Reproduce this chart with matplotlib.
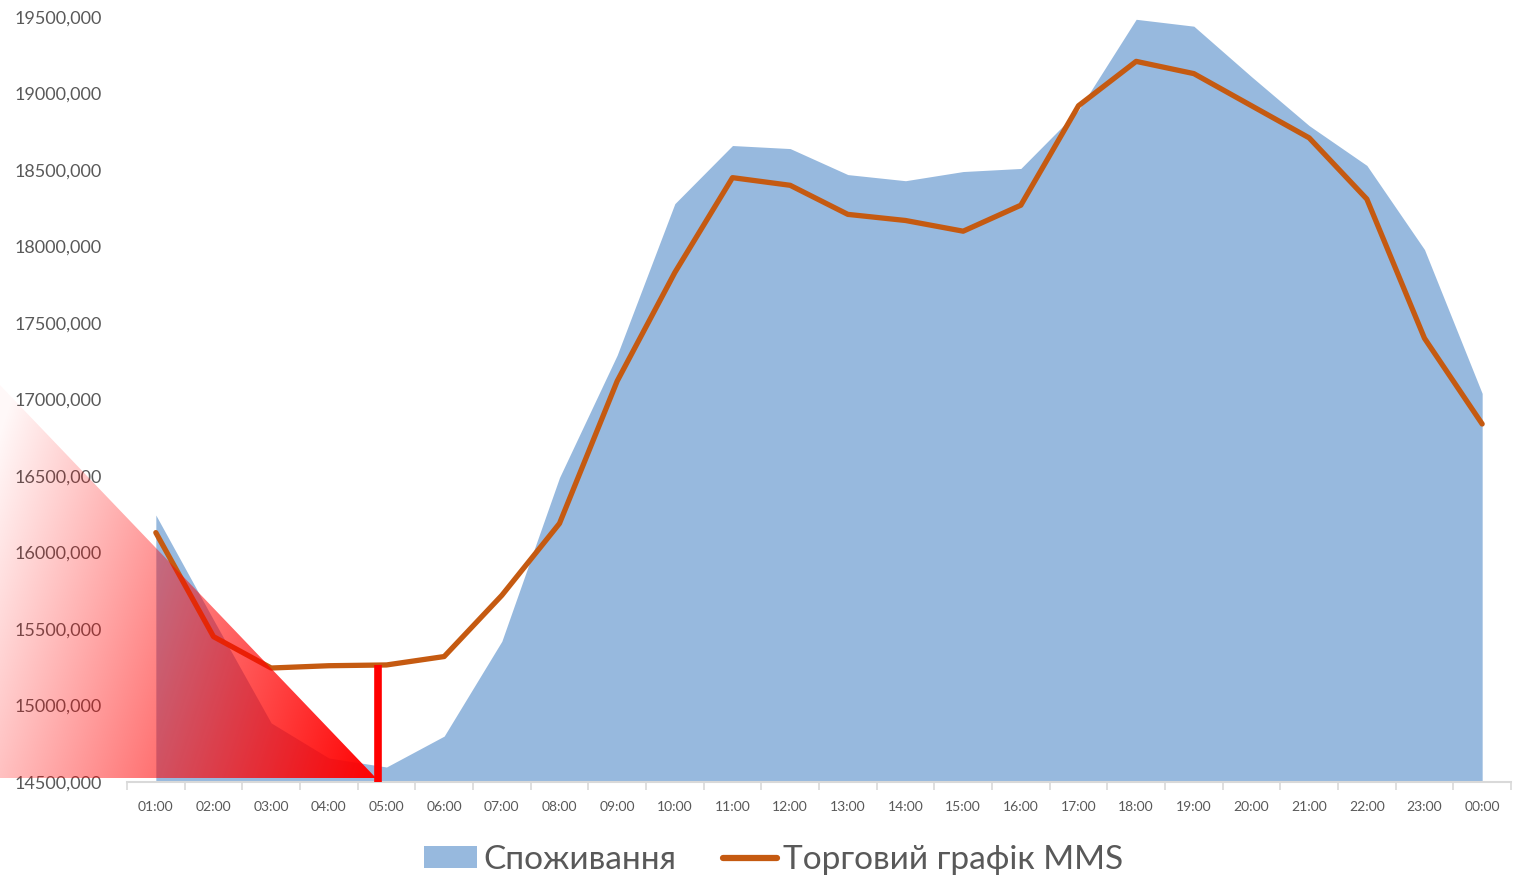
import numpy as np
import matplotlib
matplotlib.use("Agg")
import matplotlib.pyplot as plt
from matplotlib.patches import Patch, Polygon
from matplotlib.lines import Line2D
from matplotlib.ticker import FuncFormatter, FixedLocator

plt.rcParams['font.family'] = ['Lato', 'Noto Sans', 'DejaVu Sans']

hours = ["01:00", "02:00", "03:00", "04:00", "05:00", "06:00", "07:00", "08:00",
         "09:00", "10:00", "11:00", "12:00", "13:00", "14:00", "15:00", "16:00",
         "17:00", "18:00", "19:00", "20:00", "21:00", "22:00", "23:00", "00:00"]

# Споживання (area)
consumption = [16245000, 15560000, 14886000, 14657000, 14598000, 14800000,
               15420000, 16490000, 17290000, 18280000, 18660000, 18640000,
               18470000, 18430000, 18490000, 18510000, 18890000, 19485000,
               19440000, 19110000, 18790000, 18530000, 17980000, 17040000]

# Торговий графік MMS (line)
mms = [16130000, 15450000, 15245000, 15260000, 15265000, 15320000,
       15720000, 16190000, 17120000, 17830000, 18450000, 18400000,
       18210000, 18170000, 18100000, 18270000, 18920000, 19210000,
       19130000, 18920000, 18710000, 18310000, 17400000, 16840000]

y_min, y_max = 14500000, 19500000
marker_x = 3.85  # red marker just before 05:00

W, H = 1529, 880
fig = plt.figure(figsize=(W / 100, H / 100), dpi=100)
ax = fig.add_axes([127 / W, 1 - 782 / H, (1511 - 127) / W, (782 - 17) / H])

x = np.arange(len(hours))
blue = '#97B9DE'
orange = '#C55A11'
grey = '#595959'

ax.fill_between(x, y_min, consumption, color=blue, linewidth=0, zorder=1)
ax.plot(x, mms, color=orange, linewidth=3.8, solid_capstyle='round',
        solid_joinstyle='round', zorder=3)
ax.vlines(marker_x, y_min, mms[4], color='#FF0000', linewidth=5.5, zorder=4)

ax.set_xlim(-0.5, len(hours) - 0.5)
ax.set_ylim(y_min, y_max)

ax.yaxis.set_major_locator(FixedLocator(np.arange(y_min, y_max + 1, 500000)))
ax.yaxis.set_major_formatter(FuncFormatter(lambda v, p: "{:.0f},000".format(v / 1000)))
ax.tick_params(axis='y', length=0, pad=18, labelsize=13, labelcolor=grey)

ax.set_xticks(np.arange(-0.5, len(hours), 1))
ax.set_xticklabels([])
ax.set_xticks(x, minor=True)
ax.set_xticklabels(hours, minor=True)
ax.tick_params(axis='x', which='major', length=6, width=1.2, color='#D9D9D9')
ax.tick_params(axis='x', which='minor', length=0, pad=14, labelsize=10, labelcolor=grey)

for s in ['top', 'right', 'left']:
    ax.spines[s].set_visible(False)
ax.spines['bottom'].set_color('#D9D9D9')
ax.spines['bottom'].set_linewidth(1.5)

handles = [Patch(facecolor=blue, edgecolor='none', label='Споживання'),
           Line2D([0], [0], color=orange, linewidth=4.5, solid_capstyle='round',
                  label='Торговий графік MMS')]
fig.legend(handles=handles, loc='center', bbox_to_anchor=(0.506, 1 - 860 / H), ncol=2,
           frameon=False, fontsize=24, labelcolor=grey, handlelength=1.6,
           handleheight=0.65, handletextpad=0.2, columnspacing=1.4)

# red gradient triangle drawn over the left part of the chart
ov = fig.add_axes([0, 0, 1, 1], zorder=10)
ov.set_xlim(0, W)
ov.set_ylim(H, 0)
ov.axis('off')
ov.patch.set_alpha(0)
x0, x1, y0, y1 = 0, 376, 385, 778
gx, gy = np.meshgrid(np.arange(x0, x1 + 2), np.arange(y0, y1 + 2))
t = 0.75 * (gx - x0) / (x1 - x0) + 0.25 * (gy - y0) / (y1 - y0)
img = np.zeros(gx.shape + (4,))
img[..., 0] = 1.0
img[..., 3] = np.clip(t, 0.03, 1.0)
im = ov.imshow(img, extent=(x0, x1 + 2, y1 + 2, y0), origin='upper',
               interpolation='bilinear', aspect='auto')
tri = Polygon([(x0, y0), (x0, y1), (x1, y1)], closed=True, transform=ov.transData,
              facecolor='none', edgecolor='none')
ov.add_patch(tri)
im.set_clip_path(tri)
ov.set_xlim(0, W)
ov.set_ylim(H, 0)

fig.savefig('out.png', dpi=100)
